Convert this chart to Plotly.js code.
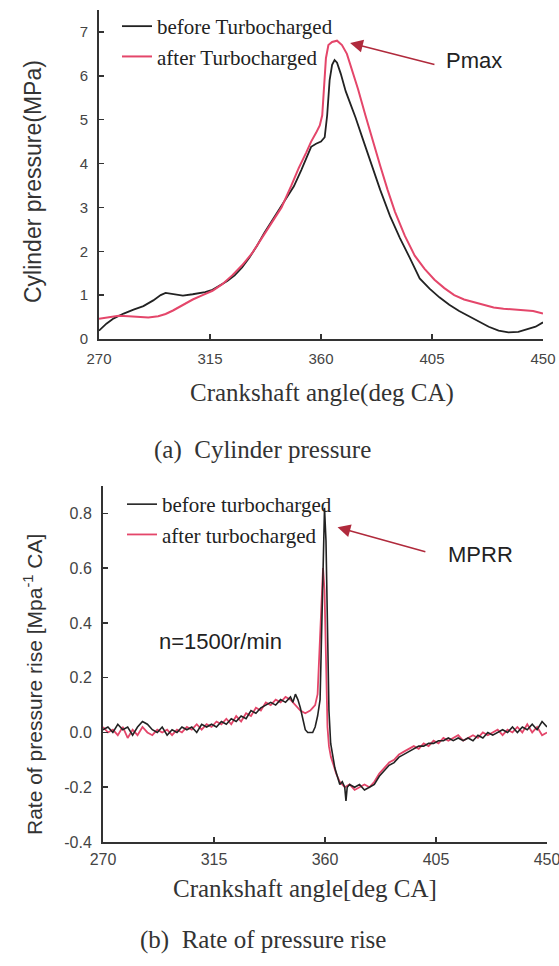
<!DOCTYPE html>
<html>
<head>
<meta charset="utf-8">
<script src="https://cdn.plot.ly/plotly-3.0.1.min.js"></script>
<style>html,body{margin:0;padding:0;background:#fff;}</style>
</head>
<body>
<div id="chart" style="width:559px;height:966px;"></div>
<script>
// ---- (a) Cylinder pressure (MPa) ----
var pBeforeX = [270,273,276,280,284,288,292,295,297,300,304,308,313,316,319,322,325,328,331,334,337,340,343,346,349,352,354,356,358,360,361.5,362.5,363.5,364.5,365.5,366.5,368,370,372,374,377,380,384,388,392,396,400,404,408,412,416,420,424,428,432,436,440,444,447,450];
var pBeforeY = [0.19,0.35,0.47,0.58,0.67,0.75,0.88,1.0,1.05,1.03,0.99,1.02,1.07,1.12,1.22,1.32,1.45,1.63,1.86,2.12,2.42,2.68,2.93,3.22,3.48,3.85,4.1,4.38,4.45,4.5,4.6,5.1,5.9,6.25,6.36,6.3,6.05,5.65,5.35,5.05,4.55,4.05,3.4,2.8,2.3,1.85,1.38,1.15,0.95,0.78,0.64,0.52,0.39,0.28,0.19,0.15,0.16,0.23,0.28,0.38];
var pAfterX = [270,274,278,282,286,290,294,297,300,304,308,312,316,320,324,328,332,336,340,344,348,351,354,356,358,359.5,360.5,361.3,362,363,364.5,366.5,368.5,370.5,372.5,375,378,381,384,387,390,394,398,402,406,410,414,418,422,426,430,434,438,442,446,450];
var pAfterY = [0.46,0.5,0.53,0.52,0.5,0.49,0.52,0.57,0.65,0.78,0.9,1.0,1.1,1.25,1.45,1.68,1.95,2.3,2.65,3.0,3.5,3.9,4.25,4.5,4.7,4.87,5.1,5.9,6.4,6.7,6.77,6.8,6.7,6.5,6.15,5.7,5.1,4.5,3.95,3.4,2.9,2.35,1.9,1.6,1.35,1.16,1.0,0.9,0.84,0.78,0.72,0.69,0.67,0.66,0.64,0.58];

// ---- (b) Rate of pressure rise ----
var rBeforeX = [270,272,274,276,278,280,282,284,286,288,290,292,294,296,298,300,302,304,306,308,310,312,314,316,318,320,322,324,326,328,330,332,334,336,338,340,342,344,346,347,348,349,350,351,352,353,354,355,356,357,358,358.6,359.3,359.8,360.4,361,361.6,362.3,363,364,365,366,367,368,368.5,369,370,372,374,376,378,380,382,384,386,388,390,392,394,396,398,400,402,404,406,408,410,412,414,416,418,420,422,424,426,428,430,432,434,436,438,440,442,444,446,448,450];
var rBeforeY = [0.01,0.02,0.00,0.03,0.01,0.02,-0.01,0.02,0.04,0.03,0.01,0.00,0.02,-0.01,0.01,0.00,0.02,0.01,0.02,0.00,0.03,0.02,0.03,0.02,0.04,0.03,0.05,0.04,0.06,0.05,0.08,0.07,0.09,0.10,0.11,0.10,0.12,0.11,0.13,0.11,0.14,0.12,0.09,0.05,0.01,0.00,0.00,0.00,0.02,0.06,0.12,0.35,0.62,0.82,0.70,0.35,0.08,-0.04,-0.08,-0.13,-0.16,-0.19,-0.18,-0.20,-0.25,-0.20,-0.19,-0.20,-0.19,-0.21,-0.20,-0.19,-0.16,-0.14,-0.12,-0.11,-0.09,-0.08,-0.07,-0.06,-0.05,-0.05,-0.04,-0.04,-0.03,-0.03,-0.02,-0.03,-0.02,-0.03,-0.02,-0.03,-0.01,-0.02,0.00,-0.01,0.00,0.01,0.00,0.02,0.00,0.02,0.01,0.03,0.01,0.04,0.02];
var rAfterX = [270,272,274,276,278,280,282,284,286,288,290,292,294,296,298,300,302,304,306,308,310,312,314,316,318,320,322,324,326,328,330,332,334,336,338,340,342,344,346,348,350,352,354,355,356,357,357.8,358.5,359.2,359.8,360.4,361,361.6,362.4,363.5,364.5,366,368,370,372,374,376,378,380,382,384,386,388,390,392,394,396,398,400,402,404,406,408,410,412,414,416,418,420,422,424,426,428,430,432,434,436,438,440,442,444,446,448,450];
var rAfterY = [0.02,0.00,0.01,-0.01,0.02,-0.02,0.01,-0.01,0.02,0.00,-0.01,0.01,0.00,0.01,-0.01,0.01,0.00,0.02,0.01,0.03,0.01,0.03,0.02,0.04,0.03,0.05,0.03,0.06,0.04,0.07,0.06,0.09,0.08,0.11,0.10,0.12,0.11,0.13,0.12,0.10,0.08,0.07,0.08,0.09,0.10,0.14,0.30,0.50,0.60,0.52,0.25,0.02,-0.05,-0.09,-0.12,-0.15,-0.18,-0.20,-0.19,-0.21,-0.20,-0.19,-0.20,-0.18,-0.15,-0.13,-0.11,-0.10,-0.08,-0.07,-0.06,-0.05,-0.06,-0.04,-0.05,-0.03,-0.04,-0.02,-0.03,-0.02,-0.01,-0.03,-0.02,-0.01,-0.02,0.00,-0.01,0.00,0.01,-0.01,0.01,0.00,0.02,0.00,0.03,0.00,0.02,-0.01,0.00];

var xTicks = [270,315,360,405,450];
var pTicks = [0,1,2,3,4,5,6,7];
var rTicks = [-0.4,-0.2,0,0.2,0.4,0.6,0.8];
var rTickText = ['-0.4','-0.2','0.0','0.2','0.4','0.6','0.8'];

var BLACK = '#222222', RED = '#e4466a';

var traces = [
  {x:pBeforeX, y:pBeforeY, xaxis:'x', yaxis:'y', mode:'lines', name:'before Turbocharged', legend:'legend', legendrank:1, line:{color:BLACK, width:1.8}},
  {x:pAfterX, y:pAfterY, xaxis:'x', yaxis:'y', mode:'lines', name:'after Turbocharged', legend:'legend', legendrank:2, line:{color:RED, width:2}},
  {x:rAfterX, y:rAfterY, xaxis:'x2', yaxis:'y2', mode:'lines', name:'after turbocharged', legend:'legend2', legendrank:2, line:{color:RED, width:1.8}},
  {x:rBeforeX, y:rBeforeY, xaxis:'x2', yaxis:'y2', mode:'lines', name:'before turbocharged', legend:'legend2', legendrank:1, line:{color:BLACK, width:1.6}}
];

var serif = 'Liberation Serif, Times New Roman, serif';
var sans = 'Liberation Sans, Arial, sans-serif';
var tickFont = {family:sans, size:15, color:'#444'};
function axisBase(extra){
  var a = {showline:true, linecolor:'#333', linewidth:2, ticks:'inside', ticklen:5, tickwidth:1.5, tickcolor:'#333',
           showgrid:false, zeroline:false, tickfont:tickFont, mirror:false, fixedrange:true, ticklabeloverflow:'allow'};
  for (var k in extra) a[k]=extra[k];
  return a;
}
function label(x, y, text, font, angle){
  var a = {xref:'paper', yref:'paper', x:x/559, y:1-y/966, xanchor:'center', yanchor:'middle', text:text, showarrow:false, font:font};
  if (angle) a.textangle = angle;
  return a;
}

var layout = {
  width:559, height:966, margin:{l:0,r:0,t:0,b:0},
  paper_bgcolor:'#fff', plot_bgcolor:'#fff',
  showlegend:true,
  xaxis: axisBase({domain:[99/559, 543/559], range:[270,450], tickvals:xTicks, anchor:'y', ticklabelstandoff:5}),
  yaxis: axisBase({domain:[1-339/966, 1-10/966], range:[0,7.5], tickvals:pTicks, anchor:'x', ticklabelstandoff:6}),
  xaxis2: axisBase({domain:[103/559, 547/559], range:[270,450], tickvals:xTicks, anchor:'y2', ticklabelstandoff:2, tickfont:{family:sans,size:16,color:'#444'}}),
  yaxis2: axisBase({domain:[1-842/966, 1-486/966], range:[-0.4,0.9], tickvals:rTicks, ticktext:rTickText, anchor:'x2', ticklabelstandoff:6, tickfont:{family:sans,size:16,color:'#444'}}),
  legend: {x:117/559, y:1-6/966, xanchor:'left', yanchor:'top', bgcolor:'rgba(0,0,0,0)', font:{family:serif, size:21, color:'#222'}, tracegroupgap:0},
  legend2: {x:122/559, y:1-484/966, xanchor:'left', yanchor:'top', bgcolor:'rgba(0,0,0,0)', font:{family:serif, size:21, color:'#222'}, tracegroupgap:0},
  annotations: [
    label(33, 182, 'Cylinder pressure(MPa)', {family:sans, size:23, color:'#333'}, -90),
    label(322, 393, 'Crankshaft angle(deg CA)', {family:serif, size:25, color:'#333'}),
    label(262, 450, '(a)  Cylinder pressure', {family:serif, size:25, color:'#333'}),
    label(33, 685, 'Rate of pressure rise [Mpa<sup>-1</sup> CA]', {family:sans, size:21, color:'#333'}, -90),
    label(305, 888, 'Crankshaft angle[deg CA]', {family:serif, size:25, color:'#333'}),
    label(263, 940, '(b)  Rate of pressure rise', {family:serif, size:25, color:'#333'}),
    {xref:'x', yref:'y', x:371.8, y:6.75, axref:'x', ayref:'y', ax:406.6, ay:6.25, text:'', showarrow:true, arrowhead:2, arrowsize:1.6, arrowwidth:1.6, arrowcolor:'#b02a3c'},
    {xref:'x', yref:'y', x:422.2, y:6.34, text:'Pmax', showarrow:false, font:{family:sans, size:22, color:'#222'}},
    {xref:'x2', yref:'y2', x:365.1, y:0.749, axref:'x2', ayref:'y2', ax:401.3, ay:0.658, text:'', showarrow:true, arrowhead:2, arrowsize:1.6, arrowwidth:1.6, arrowcolor:'#b02a3c'},
    {xref:'x2', yref:'y2', x:423.2, y:0.651, text:'MPRR', showarrow:false, font:{family:sans, size:22, color:'#222'}},
    {xref:'x2', yref:'y2', x:317.8, y:0.332, text:'n=1500r/min', showarrow:false, font:{family:sans, size:22, color:'#222'}}
  ]
};

Plotly.newPlot('chart', traces, layout, {displayModeBar:false, staticPlot:true});
</script>
</body>
</html>
